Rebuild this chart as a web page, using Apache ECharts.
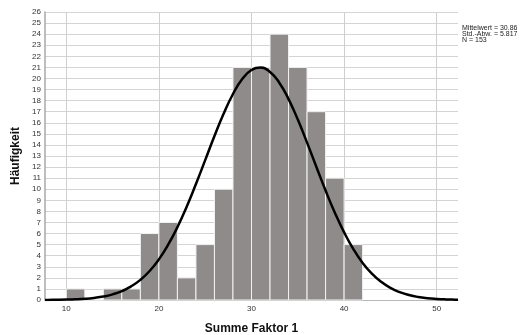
<!DOCTYPE html>
<html>
<head>
<meta charset="utf-8">
<script src="https://cdn.jsdelivr.net/npm/echarts@6/dist/echarts.min.js"></script>
<style>
html, body { margin: 0; padding: 0; background: #fff; }
#main { width: 527px; height: 335px; }
</style>
</head>
<body>
<div id="main"></div>
<script>
// histogram bins (lower edge, width 2) and counts
var binStarts = [10, 12, 14, 16, 18, 20, 22, 24, 26, 28, 30, 32, 34, 36, 38, 40];
var binWidth = 2;
var counts = [1, 0, 1, 1, 6, 7, 2, 5, 10, 21, 21, 24, 21, 17, 11, 5];

// normal curve
var curveX = [7.7, 8, 9, 10, 11, 12, 13, 14, 15, 16, 17, 18, 19, 20, 21, 22, 23, 24, 25, 26, 27, 28, 29, 30,
    31, 32, 33, 34, 35, 36, 37, 38, 39, 40, 41, 42, 43, 44, 45, 46, 47, 48, 49, 50, 51, 52, 52.3];
var curveY = [0.008, 0.009, 0.018, 0.034, 0.062, 0.11, 0.19, 0.31, 0.51, 0.80, 1.23, 1.82, 2.62, 3.67, 4.99, 6.58,
    8.42, 10.47, 12.63, 14.81, 16.84, 18.60, 19.95, 20.76, 20.98, 20.59, 19.62, 18.14, 16.29, 14.21, 12.03,
    9.88, 7.88, 6.11, 4.59, 3.35, 2.38, 1.64, 1.09, 0.71, 0.45, 0.27, 0.16, 0.094, 0.052, 0.028, 0.024];

var xTicks = [10, 20, 30, 40, 50];
var statLines = ['Mittelwert = 30.86', 'Std.-Abw. = 5.817', 'N = 153'];

var barData = [];
for (var i = 0; i < binStarts.length; i++) {
    barData.push([binStarts[i], binStarts[i] + binWidth, counts[i]]);
}
var curveData = [];
for (var j = 0; j < curveX.length; j++) {
    curveData.push([curveX[j], curveY[j]]);
}

var chart = echarts.init(document.getElementById('main'), null, { renderer: 'canvas' });
var option = {
    backgroundColor: '#fff',
    animation: false,
    textStyle: { fontFamily: 'Liberation Sans, Arial, sans-serif' },
    grid: { left: 45, right: 69, top: 12, bottom: 35, containLabel: false, outerBoundsMode: 'none' },
    xAxis: {
        type: 'value',
        min: 7.7,
        max: 52.3,
        name: 'Summe Faktor 1',
        nameLocation: 'middle',
        nameGap: 23,
        nameTextStyle: { fontSize: 12, fontWeight: 'bold', color: '#111' },
        axisLine: { show: true, lineStyle: { color: '#b8b8b8', width: 1 } },
        axisTick: { show: false },
        splitLine: { show: false },
        axisLabel: {
            customValues: xTicks,
            fontSize: 8,
            color: '#333',
            margin: 5
        }
    },
    yAxis: {
        type: 'value',
        min: 0,
        max: 26,
        interval: 1,
        name: 'Häufigkeit',
        nameLocation: 'middle',
        nameGap: 21,
        nameRotate: 90,
        nameTextStyle: { fontSize: 12, fontWeight: 'bold', color: '#111' },
        axisLine: { show: true, lineStyle: { color: '#a8a8a8', width: 1.5 } },
        axisTick: { show: false },
        splitLine: { show: true, lineStyle: { color: '#d4d4d4', width: 1 } },
        axisLabel: { fontSize: 8, color: '#333', margin: 4 }
    },
    graphic: [{
        type: 'text',
        left: 462,
        top: 25,
        style: {
            text: statLines.join('\n'),
            fontSize: 7,
            lineHeight: 5.6,
            fill: '#222',
            fontFamily: 'Liberation Sans, Arial, sans-serif'
        }
    }],
    series: [{
        type: 'custom',
        z: 2,
        renderItem: function (params, api) {
            var p0 = api.coord([api.value(0), api.value(2)]);
            var p1 = api.coord([api.value(1), 0]);
            return {
                type: 'rect',
                shape: { x: p0[0], y: p0[1], width: p1[0] - p0[0], height: p1[1] - p0[1] },
                style: { fill: '#8f8b8b', stroke: '#f2f2f2', lineWidth: 1 }
            };
        },
        encode: { x: [0, 1], y: 2 },
        data: barData
    }, {
        type: 'line',
        z: 3,
        smooth: true,
        showSymbol: false,
        symbol: 'none',
        lineStyle: { color: '#000', width: 2.5 },
        data: curveData,
        markLine: {
            silent: true,
            symbol: 'none',
            z: 1,
            label: { show: false },
            lineStyle: { color: '#cfcfcf', width: 1, type: 'solid' },
            data: xTicks.map(function (v) { return { xAxis: v }; })
        }
    }]
};
chart.setOption(option);
</script>
</body>
</html>
